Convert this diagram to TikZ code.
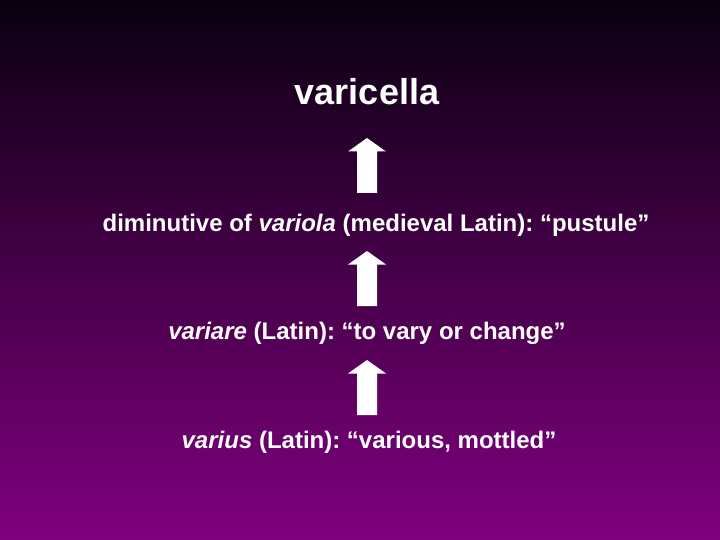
\documentclass[tikz,border=0pt]{standalone}
\usepackage{fontspec}
\setmainfont{Liberation Sans}
\frenchspacing
\definecolor{bgtop}{RGB}{10,0,16}
\definecolor{bgmid}{RGB}{90,0,96}
\definecolor{bgbot}{RGB}{128,0,128}
\tikzset{
  word/.style={text=white, font=\bfseries\fontsize{24}{28}\selectfont, anchor=base, inner sep=0pt},
  upbar/.style={fill=white, draw=none}
}
\begin{document}
\begin{tikzpicture}[x=1pt,y=-1pt]
\shade[top color=bgtop, middle color=bgmid, bottom color=bgbot] (0,0) rectangle (720,540);
\useasboundingbox (0,0) rectangle (720,540);
%
\node[word, font=\bfseries\fontsize{36}{40}\selectfont] (varicella) at (367,105) {varicella};
\node[word] (variola) at (376,231) {diminutive of \textit{variola} (medieval Latin): “pustule”};
\node[word] (variare) at (367,339) {\textit{variare} (Latin): “to vary or change”};
\node[word] (varius) at (369,448) {\textit{varius} (Latin): “various, mottled”};
%
\foreach \t in {138,251,360}
  \fill[upbar] (367,\t) -- ++(19,13.5) -- ++(-9,0) -- ++(0,41.5) -- ++(-20,0) -- ++(0,-41.5) -- ++(-9,0) -- cycle;
%
\end{tikzpicture}
\end{document}
